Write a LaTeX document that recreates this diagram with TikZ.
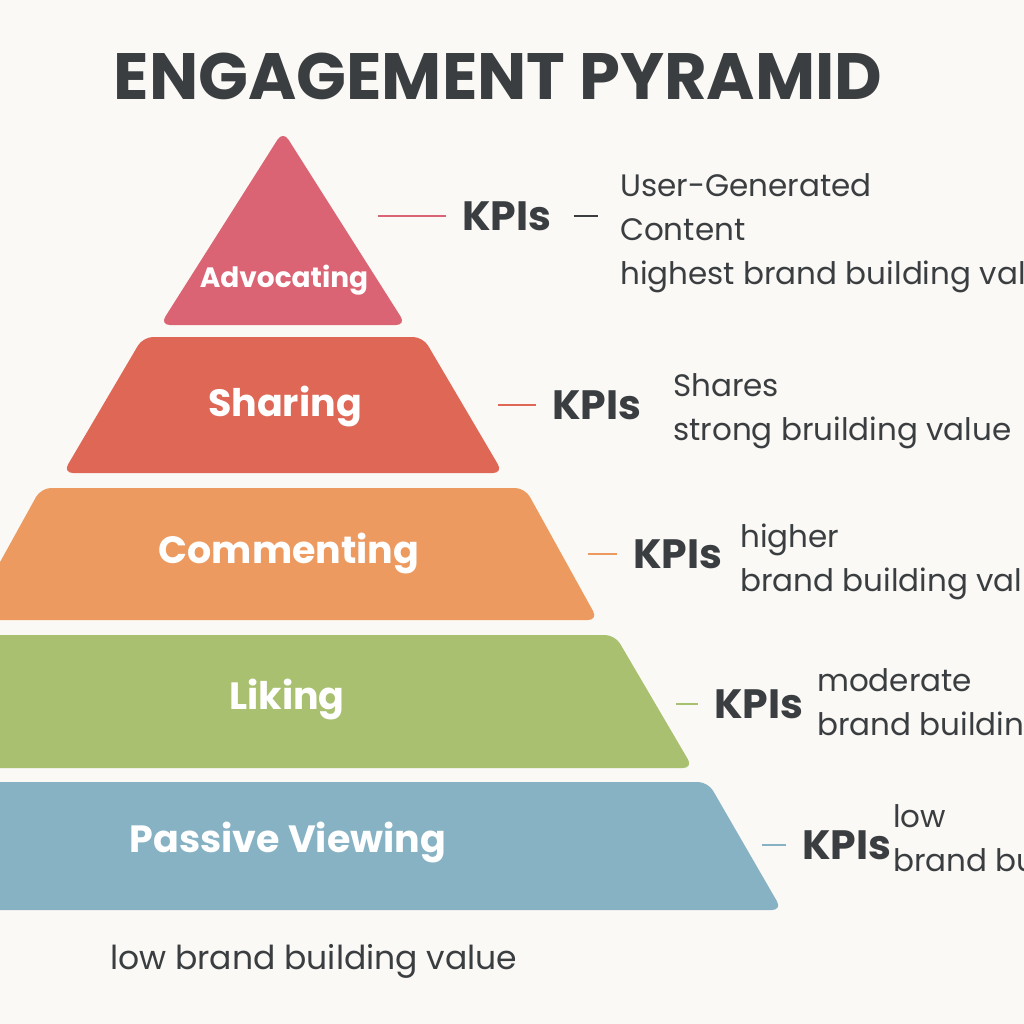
\documentclass[tikz,border=0pt]{standalone}
\usepackage{fontspec}
\setmainfont{Poppins}
\usepackage{tikz}
\usetikzlibrary{calc}
\usepackage{xcolor}
\definecolor{paper}{HTML}{FBF9F5}
\definecolor{ink}{HTML}{3A3E41}
\definecolor{advc}{HTML}{DA6474}
\definecolor{shar}{HTML}{DE6756}
\definecolor{comm}{HTML}{EC9A60}
\definecolor{like}{HTML}{A8C070}
\definecolor{pasv}{HTML}{86B2C4}
\tikzset{
  tier/.style={rounded corners=10pt},
  lbl/.style={text=white, inner sep=0pt, font=\bfseries\fontsize{38}{42}\selectfont},
  kpi/.style={text=ink, inner sep=0pt, font=\bfseries\fontsize{41}{44}\selectfont},
  desc/.style={text=ink, inner sep=0pt, anchor=north west, align=left, font=\fontsize{31}{44}\selectfont},
  tick/.style={line width=2.2pt, shorten >=16pt}
}

\begin{document}
\begin{tikzpicture}[x=1pt,y=-1pt]
\useasboundingbox (0,0) rectangle (1024,1024);
\fill [paper] (0,0) rectangle (1024,1024);
\clip (0,0) rectangle (1024,1024);
\node [text=ink, inner sep=0pt, font=\bfseries\fontsize{65.5}{70}\selectfont] (title) at (498,76) {ENGAGEMENT PYRAMID};
% pyramid tiers
\fill [advc, tier] (283,131) -- (406,325) -- (160,325) -- cycle;
\fill [shar, tier] (143,337) -- (423,337) -- (503,473) -- (63,473) -- cycle;
\fill [comm, tier] (41,488) -- (525,488) -- (598,620) -- (-32,620) -- cycle;
\fill [like, tier] (-49,635) -- (615,635) -- (693,768) -- (-127,768) -- cycle;
\fill [pasv, tier] (-142,782) -- (708,782) -- (782,910) -- (-216,910) -- cycle;
\node [lbl, font=\bfseries\fontsize{28}{30}\selectfont] (l1) at (284,280) {Advocating};
\node [lbl] (l2) at (285,407) {Sharing};
\node [lbl] (l3) at (289,554) {Commenting};
\node [lbl] (l4) at (287,699) {Liking};
\node [lbl] (l5) at (288,842) {Passive Viewing};
% kpi labels and ticks
\coordinate (t1) at (378,216);
\coordinate (t2) at (498,405);
\coordinate (t3) at (588,554);
\coordinate (t4) at (676,704);
\coordinate (t5) at (762,845);
\node [kpi, anchor=west] (k1) at ($(t1)+(84,0)$) {KPIs};
\node [kpi, anchor=west] (k2) at ($(t2)+(54,0)$) {KPIs};
\node [kpi, anchor=west] (k3) at ($(t3)+(45,0)$) {KPIs};
\node [kpi, anchor=west] (k4) at ($(t4)+(38,0)$) {KPIs};
\node [kpi, anchor=west] (k5) at ($(t5)+(40,0)$) {KPIs};
\draw [tick, advc] (t1) -- (k1.west);
\draw [tick, shar] (t2) -- (k2.west);
\draw [tick, comm] (t3) -- (k3.west);
\draw [tick, like] (t4) -- (k4.west);
\draw [tick, pasv] (t5) -- (k5.west);
\draw [ink, line width=2.2pt] ($(k1.east)+(22,0)$) -- ++(24,0);
% descriptions
\node [desc] (d1) at (620,173) {User-Generated\\Content\\highest brand building value};
\node [desc] (d2) at (673,373) {Shares\\strong bruilding value};
\node [desc] (d3) at (740,524) {higher\\brand building value};
\node [desc] (d4) at (817,668) {moderate\\brand building value};
\node [desc] (d5) at (893,804) {low\\brand building value};
\node [text=ink, inner sep=0pt, anchor=west, font=\fontsize{33}{36}\selectfont] (foot) at (110,961) {low brand building value};
\end{tikzpicture}
\end{document}
